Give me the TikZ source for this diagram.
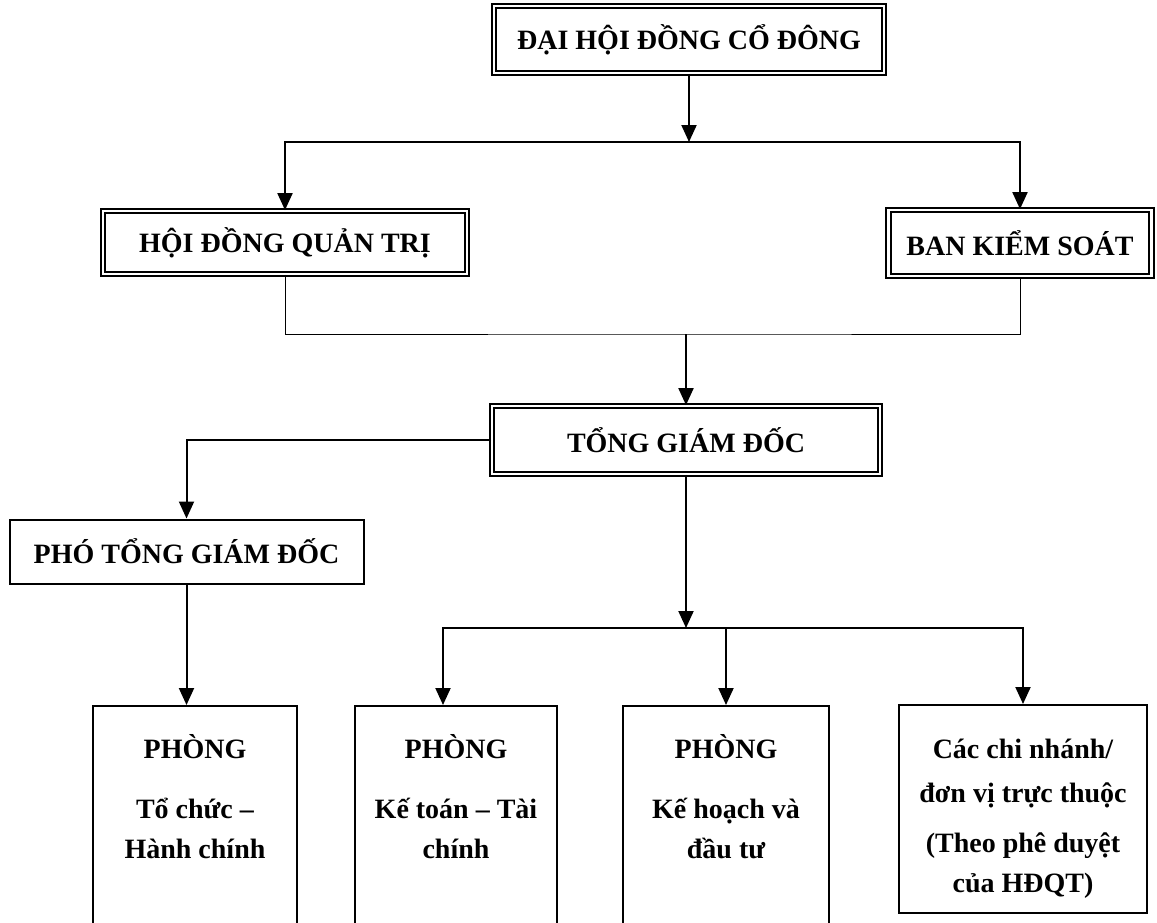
\documentclass[tikz,border=0pt]{standalone}
\usepackage{fontspec}
\setmainfont{Liberation Serif}
\usetikzlibrary{arrows.meta,positioning}

\begin{document}
\begin{tikzpicture}[x=0.5pt, y=-0.5pt,
    every node/.style={font=\bfseries\fontsize{14}{20}\selectfont, align=center},
    board/.style={draw, double, double distance=1.3pt, line width=0.9pt},
    office/.style={draw, line width=1pt},
    arr/.style={line width=1pt, -{Triangle[length=8.5pt,width=7.5pt]}},
    link/.style={line width=0.5pt}]
    \useasboundingbox (0,0) rectangle (1157,922);
    \clip (0,0) rectangle (1157,922);

    % management levels
    \node[board, minimum width=195pt, minimum height=33.5pt] (dhdcd) at (689,39.5) {ĐẠI HỘI ĐỒNG CỔ ĐÔNG};
    \node[board, minimum width=182pt, minimum height=31.5pt] (hdqt) at (285,242.5) {HỘI ĐỒNG QUẢN TRỊ};
    \node[board, minimum width=131.5pt, minimum height=33pt] (bks) at (1020,243) {BAN KIỂM SOÁT};
    \node[board, minimum width=194pt, minimum height=34pt] (tgd) at (686,440) {TỔNG GIÁM ĐỐC};
    \node[office, minimum width=177pt, minimum height=32pt] (ptgd) at (186.5,551.5) {PHÓ TỔNG GIÁM ĐỐC};

    % departments
    \node[office, minimum width=102pt, minimum height=120pt, anchor=north] (ptc) at (195,705) {};
    \node[below=11pt of ptc.north] {PHÒNG\\[10pt]Tổ chức –\\Hành chính};
    \node[office, minimum width=101pt, minimum height=120pt, anchor=north] (pkt) at (456,705) {};
    \node[below=11pt of pkt.north] {PHÒNG\\[10pt]Kế toán – Tài\\chính};
    \node[office, minimum width=103pt, minimum height=120pt, anchor=north] (pkh) at (726,705) {};
    \node[below=11pt of pkh.north] {PHÒNG\\[10pt]Kế hoạch và\\đầu tư};
    \node[office, minimum width=124pt, minimum height=104pt, anchor=north] (cn) at (1023,704) {};
    \node[below=14pt of cn.north] {Các chi nhánh/\\[2pt]đơn vị trực thuộc\\[5pt](Theo phê duyệt\\của HĐQT)};

    % connectors
    \coordinate (b1) at (dhdcd.south |- 0,142);
    \coordinate (b2) at (tgd.north |- 0,334);
    \coordinate (b3) at (tgd.south |- 0,628);
    \draw[arr] (dhdcd.south) -- (b1);
    \draw[arr] (b1) -| (hdqt.north);
    \draw[arr] (b1) -| (bks.north);
    \draw[link] (hdqt.south) |- (b2) -| (bks.south);
    \draw[arr] (b2) -- (tgd.north);
    \draw[arr] (tgd.west) -| (ptgd.north);
    \draw[arr] (ptgd.south) -- (ptgd.south |- ptc.north);
    \draw[arr] (tgd.south) -- (b3);
    \draw[arr] (b3) -| ([xshift=-6.5pt]pkt.north);
    \draw[arr] (b3) -| (cn.north);
    \draw[arr] (pkh.north |- b3) -- (pkh.north);

\end{tikzpicture}
\end{document}
